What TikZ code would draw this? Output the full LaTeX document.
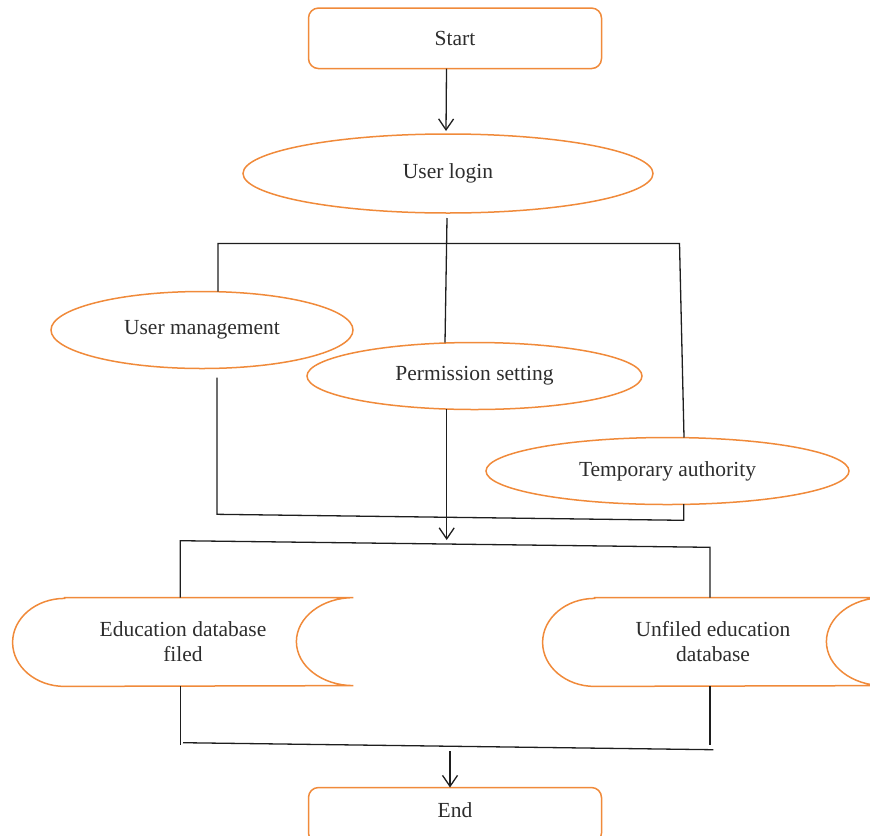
\documentclass[tikz,border=0pt]{standalone}
\usepackage{fontspec}
\setmainfont{Liberation Serif}
\usetikzlibrary{shapes.geometric,arrows.meta}
\definecolor{orng}{RGB}{240,138,58}
\definecolor{txt}{RGB}{45,45,45}
\definecolor{ln}{RGB}{30,30,30}
\begin{document}
\begin{tikzpicture}[x=0.5pt,y=0.5pt,
  every node/.style={font=\fontsize{10.75}{12.5}\selectfont, text=txt, inner sep=0pt},
  termbox/.style={draw=orng, line width=0.75pt, rounded corners=5pt, rectangle, minimum width=146.5pt},
  oval/.style={draw=orng, line width=0.75pt, ellipse},
  store/.style={rectangle, minimum width=170pt, minimum height=44pt, align=center},
  storeline/.style={draw=orng, line width=0.75pt},
  conn/.style={draw=ln, line width=0.65pt},
  arr/.style={conn, -{Straight Barb[length=5.5pt,width=7.5pt,line width=0.65pt]}}
]
\useasboundingbox (0,0) rectangle (870,-835);

% nodes
\node[termbox, minimum height=30.25pt] (start) at (455,-38.3) {Start};
\node[oval, minimum width=205pt, minimum height=39.5pt] (login) at (448,-173.5) {User login};
\node[oval, minimum width=151pt, minimum height=38.5pt] (um) at (202,-330) {User management};
\node[oval, minimum width=167.5pt, minimum height=33.5pt] (perm) at (474.5,-376) {Permission setting};
\node[oval, minimum width=181.5pt, minimum height=33.5pt] (temp) at (667.5,-471) {Temporary authority};
\node[store] (edu) at (183,-642) {Education database\\filed};
\node[store] (unf) at (713,-642) {Unfiled education\\database};
\node[termbox, minimum height=27.75pt, text depth=5pt] (end) at (455,-815.25) {End};

% stored-data outlines
\foreach \n in {edu,unf}{
  \draw[storeline] ([xshift=26pt]\n.north west) -- (\n.north east)
     arc[start angle=90, end angle=270, x radius=28.5pt, y radius=22pt]
     -- ([xshift=26pt]\n.south west)
     arc[start angle=270, end angle=90, x radius=26pt, y radius=22pt] -- cycle;
}

% junction coordinates
\coordinate (s1) at (446.5,-68.7);
\coordinate (s2) at (446,-131);
\coordinate (c1) at (447,-218);
\coordinate (c2) at (445,-342.5);
\coordinate (h1) at (218,-243.5);
\coordinate (h2) at (679.5,-243.5);
\coordinate (h3) at (218,-291.5);
\coordinate (h4) at (684,-437.5);
\coordinate (b1) at (217,-377.5);
\coordinate (b2) at (217,-514.3);
\coordinate (b3) at (683.7,-520.3);
\coordinate (b4) at (683.7,-504);
\coordinate (p1) at (446.7,-408.5);
\coordinate (p2) at (446.7,-540);
\coordinate (d1) at (180.3,-540.7);
\coordinate (d2) at (710,-547.3);
\coordinate (e1) at (180.3,-686);
\coordinate (e2) at (180.3,-745);
\coordinate (e3) at (710,-686);
\coordinate (e4) at (710,-745.3);
\coordinate (f1) at (183,-742.7);
\coordinate (f2) at (713.3,-749.7);
\coordinate (g1) at (450,-751);
\coordinate (g2) at (450,-787.5);

% connectors
\draw[arr] (s1) -- (s2);
\draw[conn] (c1) -- (c2);
\draw[conn] (h3) -- (h1) -- (h2) -- (h4);
\draw[conn] (b1) -- (b2) -- (b3) -- (b4);
\draw[arr] (p1) -- (p2);
\draw[conn] (edu.north -| d1) -- (d1) -- (d2) -- (unf.north -| d2);
\draw[conn] (e1) -- (e2);
\draw[conn] (e3) -- (e4);
\draw[conn] (f1) -- (f2);
\draw[arr] (g1) -- (g2);
\end{tikzpicture}
\end{document}
